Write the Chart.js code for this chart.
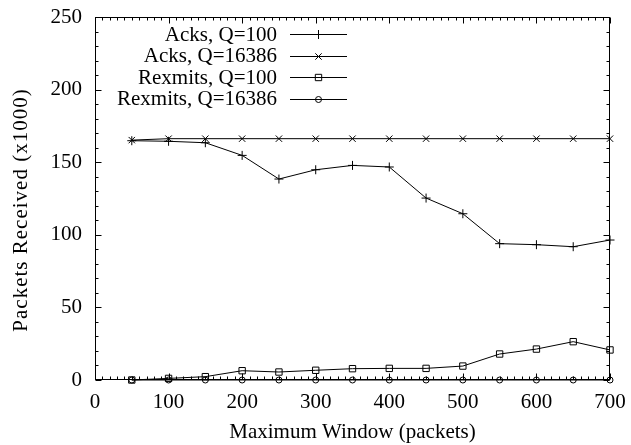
<!DOCTYPE html>
<html>
<head>
<meta charset="utf-8">
<script src="https://cdn.jsdelivr.net/npm/chart.js@4"></script>
<style>
html,body{margin:0;padding:0;background:#fff;}
#wrap{width:631px;height:445px;}
</style>
</head>
<body>
<div id="wrap"><canvas id="c" width="631" height="445"></canvas></div>
<script>
const windows = [50,100,150,200,250,300,350,400,450,500,550,600,650,700];
const acksQ100 = [164.8,164.4,163.4,154.7,138.4,144.8,147.8,146.7,125.3,114.5,93.9,93.2,91.8,96.4];
const acksQ16386 = [165.2,166.2,166.2,166.2,166.2,166.2,166.2,166.2,166.2,166.2,166.2,166.2,166.2,166.2];
const rexQ100 = [0,1.1,2.3,6.4,5.5,6.7,7.8,8.0,8.0,9.6,17.9,21.3,26.4,20.7];
const rexQ16386 = [0,0,0,0,0,0,0,0,0,0,0,0,0,0];
const seriesLabels = ['Acks, Q=100','Acks, Q=16386','Rexmits, Q=100','Rexmits, Q=16386'];
const seriesValues = [acksQ100, acksQ16386, rexQ100, rexQ16386];
const xTitle = 'Maximum Window (packets)';
const yTitle = 'Packets Received (x1000)';
const pointStyles = ['cross','crossRot','rect','circle'];
const pointSizes = [4.5,4.5,4.5,3];

const FONT = "'Liberation Serif', 'Times New Roman', serif";
const FS = 21;

const datasets = seriesValues.map((vals, i) => ({
  label: seriesLabels[i],
  data: windows.map((w, j) => ({x: w, y: vals[j]})),
  borderColor: '#000',
  borderWidth: 1,
  backgroundColor: 'rgba(0,0,0,0)',
  pointStyle: pointStyles[i],
  pointRadius: pointSizes[i],
  pointBorderColor: '#000',
  pointBorderWidth: 1,
  pointBackgroundColor: 'rgba(0,0,0,0)',
  tension: 0,
  fill: false,
  clip: false
}));

const framePlugin = {
  id: 'frame',
  afterDraw(chart) {
    const ctx = chart.ctx;
    const a = chart.chartArea;
    const xs = chart.scales.x, ys = chart.scales.y;
    ctx.save();
    ctx.strokeStyle = '#000';
    ctx.lineWidth = 1;
    const L = Math.round(a.left) + 0.5, R = Math.round(a.right) - 0.5;
    const T = Math.round(a.top) + 0.5, B = Math.round(a.bottom) - 0.5;
    ctx.strokeRect(L, T, R - L, B - T);
    ctx.beginPath();
    for (let v = 0; v <= 700; v += 10) {
      const len = (v % 100 === 0) ? 6 : 3;
      const px = Math.round(xs.getPixelForValue(v)) + 0.5;
      ctx.moveTo(px, B); ctx.lineTo(px, B - len);
      ctx.moveTo(px, T); ctx.lineTo(px, T + len);
    }
    for (let v = 0; v <= 250; v += 10) {
      const len = (v % 50 === 0) ? 6 : 3;
      const py = Math.round(ys.getPixelForValue(v)) + 0.5;
      ctx.moveTo(L, py); ctx.lineTo(L + len, py);
      ctx.moveTo(R, py); ctx.lineTo(R - len, py);
    }
    ctx.stroke();

    ctx.font = FS + 'px ' + FONT;
    ctx.fillStyle = '#000';
    // y title
    ctx.save();
    ctx.translate(21, 210);
    ctx.rotate(-Math.PI / 2);
    ctx.textAlign = 'center';
    ctx.textBaseline = 'middle';
    try { ctx.letterSpacing = '1px'; } catch (e) {}
    ctx.fillText(yTitle, 0, 0);
    ctx.restore();

    // legend
    ctx.textAlign = 'right';
    ctx.textBaseline = 'middle';
    const rowY = [34, 55.5, 77, 98.5];
    chart.data.datasets.forEach((ds, i) => {
      const y = Math.round(rowY[i]) + 0.5;
      ctx.fillStyle = '#000';
      ctx.fillText(ds.label, 277, rowY[i] + 1);
      ctx.beginPath();
      ctx.moveTo(290, y);
      ctx.lineTo(347, y);
      ctx.stroke();
      ctx.fillStyle = 'rgba(0,0,0,0)';
      Chart.helpers.drawPoint(ctx, {pointStyle: ds.pointStyle, radius: ds.pointRadius, rotation: 0, borderWidth: 1}, 318.5, y);
    });
    ctx.restore();
  }
};

function zeroPad(s) { s.paddingLeft = 0; s.paddingRight = 0; s.paddingTop = 0; s.paddingBottom = 0; }

new Chart(document.getElementById('c'), {
  type: 'line',
  data: {datasets},
  options: {
    responsive: false,
    animation: false,
    layout: {padding: {left: 0, right: 21, top: 17, bottom: 0}},
    plugins: {legend: {display: false}, tooltip: {enabled: false}},
    scales: {
      x: {
        type: 'linear', min: 0, max: 700,
        grid: {display: false, drawTicks: false},
        border: {display: false},
        ticks: {stepSize: 100, color: '#000', font: {family: FONT, size: FS}, padding: 10, maxRotation: 0},
        title: {display: true, text: xTitle, color: '#000', font: {family: FONT, size: FS}, padding: {top: 0, bottom: 0}},
        afterFit(s) { s.height = 65; zeroPad(s); }
      },
      y: {
        type: 'linear', min: 0, max: 250,
        grid: {display: false, drawTicks: false},
        border: {display: false},
        ticks: {stepSize: 50, color: '#000', font: {family: FONT, size: FS}, padding: 13},
        afterFit(s) { s.width = 95; zeroPad(s); }
      }
    }
  },
  plugins: [framePlugin]
});
</script>
</body>
</html>
